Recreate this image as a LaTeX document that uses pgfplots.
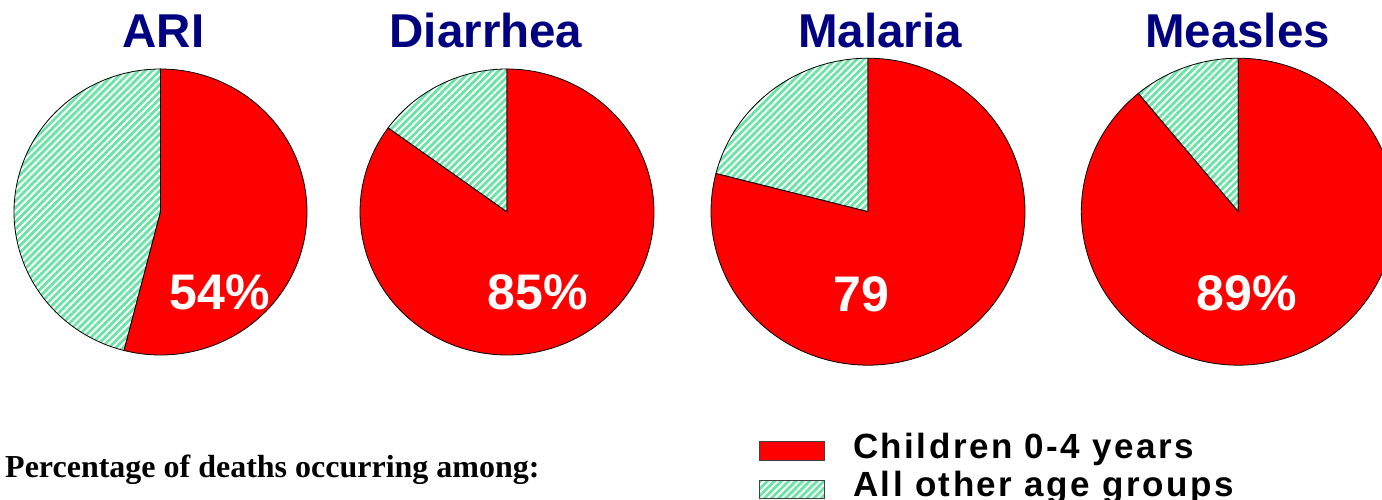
\documentclass[border=0pt]{standalone}
\usepackage{fontspec}
\setmainfont{Liberation Sans}
\newfontfamily\timesfont{Liberation Serif}
\usepackage{pgfplots}
\pgfplotsset{compat=1.18}
\usetikzlibrary{patterns.meta}
\definecolor{navytitle}{RGB}{0,0,128}
\definecolor{mint}{RGB}{105,228,165}
\tikzset{mintpat/.style={pattern={Lines[angle=45,distance=5pt,line width=2.8pt]}, pattern color=mint}}
\newcommand{\titlefont}{\fontsize{47.5}{50}\selectfont\bfseries}
\newcommand{\pctfont}{\fontsize{50}{54}\selectfont\bfseries}
\newcommand{\legfont}{\fontsize{35}{40}\selectfont\bfseries\addfontfeature{LetterSpace=7.2}}
% #1,#2 centre; #3,#4 width, height; #5 share of children 0-4 (%)
\newcommand{\pie}[5]{%
\pgfmathsetmacro\redstart{90-3.6*#5}%
\pgfmathsetmacro\greenend{450-3.6*#5}%
\begin{axis}[at={(#1pt,#2pt)}, anchor=origin, width=#3pt, height=#4pt, scale only axis,
  xmin=-1, xmax=1, ymin=-1, ymax=1, hide axis, clip=false]
\addplot[data cs=polar, domain=90:\greenend, samples=100, mintpat, draw=black, line width=0.8pt] {1} -- (axis cs:0,0) -- cycle;
\addplot[data cs=polar, domain=\redstart:90, samples=160, fill=red, draw=black, line width=0.8pt] {1} -- (axis cs:0,0) -- cycle;
\end{axis}}
\begin{document}
\begin{tikzpicture}[x=1pt,y=1pt]
\path[use as bounding box] (0,0) rectangle (1382,499);
\clip (0,0) rectangle (1382,499);
\fill[white] (0,0) rectangle (1382,499);
\pie{160.5}{287}{293}{286}{54}
\pie{507}{287}{294}{286}{85}
\pie{868}{287.3}{314}{307}{79}
\pie{1238.3}{287.3}{314}{307}{89}
\node[anchor=base, text=navytitle, font=\titlefont, inner sep=0pt] at (163.5,451) {ARI};
\node[anchor=base, text=navytitle, font=\titlefont, inner sep=0pt] at (486,451) {Diarrhea};
\node[anchor=base, text=navytitle, font=\titlefont, inner sep=0pt] at (880,451) {Malaria};
\node[anchor=base, text=navytitle, font=\titlefont, inner sep=0pt] at (1237.5,451) {Measles};
\node[anchor=base, text=white, font=\pctfont, inner sep=0pt] at (220,190) {54\%};
\node[anchor=base, text=white, font=\pctfont, inner sep=0pt] at (538,190) {85\%};
\node[anchor=base, text=white, font=\pctfont, inner sep=0pt] at (861,188) {79};
\node[anchor=base, text=white, font=\pctfont, inner sep=0pt] at (1246.5,189) {89\%};
\node[anchor=base west, font=\timesfont\fontsize{32}{36}\selectfont\bfseries, inner sep=0pt] at (5,22) {Percentage of deaths occurring among:};
\begin{axis}[at={(0pt,0pt)}, anchor=origin, width=1382pt, height=499pt, scale only axis,
  xmin=0, xmax=1382, ymin=0, ymax=499, hide axis, clip=false,
  legend cell align=left,
  legend style={at={(axis cs:759,66)}, anchor=north west, draw=none, fill=none,
    inner sep=0pt, outer sep=0pt, row sep=10.9pt, font=\legfont,
    nodes={inner sep=0pt, text height=25pt, text depth=0pt},
    /tikz/every odd column/.append style={column sep=28pt}},
  legend image code/.code={\draw[#1] (0pt,-14.6pt) rectangle (65pt,3.7pt);}]
\addlegendimage{fill=red, draw=black!75, line width=1pt}
\addlegendentry{Children 0-4 years}
\addlegendimage{mintpat, draw=black!75, line width=1pt}
\addlegendentry{All other age groups}
\end{axis}
\end{tikzpicture}
\end{document}
